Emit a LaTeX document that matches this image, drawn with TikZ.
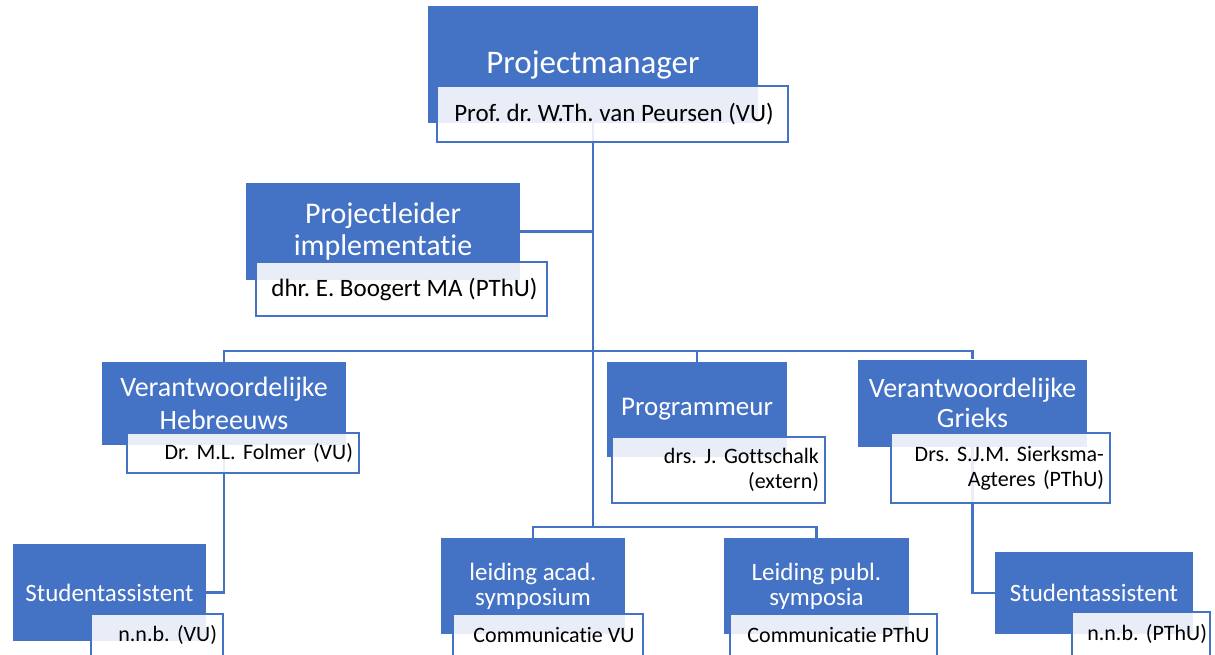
\documentclass[tikz,border=0pt]{standalone}
\usepackage{fontspec}
\setmainfont{Carlito}[Ligatures=NoCommon]
\frenchspacing
\newcommand{\myfs}[2]{\fontsize{#1}{#2}\selectfont\frenchspacing}
\definecolor{myblue}{HTML}{4472C4}
\begin{document}
\begin{tikzpicture}[x=1pt,y=-1pt,
  bluebox/.style={fill=myblue, text=white, inner sep=0pt, align=center},
  whitebox/.style={draw=myblue, line width=1.8pt, fill=white, fill opacity=0.88, text opacity=1, text=black, inner xsep=6pt, inner ysep=0pt},
  conn/.style={draw=myblue, line width=2.4pt}]
\useasboundingbox (0,0) rectangle (1215,654);
\clip (0,0) rectangle (1215,654);
\fill[white] (0,0) rectangle (1215,654);

% blue boxes
\node[bluebox, minimum width=330pt, minimum height=117pt, font=\myfs{33}{38}] (pm) at (593,64.5) {Projectmanager};
\node[bluebox, minimum width=274pt, minimum height=97pt, font=\myfs{30}{32}] (pl) at (383,231.5) {Projectleider\\implementatie};
\node[bluebox, minimum width=244pt, minimum height=83pt, font=\myfs{28}{33}] (heb) at (224,403.5) {Verantwoordelijke\\Hebreeuws};
\node[bluebox, minimum width=180pt, minimum height=95pt, font=\myfs{27}{30}] (prog) at (697,409.5) {Programmeur};
\node[bluebox, minimum width=229pt, minimum height=87pt, font=\myfs{28}{30}] (grk) at (972.5,403) {Verantwoordelijke\\Grieks};
\node[bluebox, minimum width=193pt, minimum height=97pt, font=\myfs{25}{28}] (sa1) at (109.5,592.5) {Studentassistent};
\node[bluebox, minimum width=184pt, minimum height=96pt, font=\myfs{25}{25}] (acad) at (533,586) {leiding acad.\\symposium};
\node[bluebox, minimum width=185pt, minimum height=96pt, font=\myfs{25}{25}] (publ) at (816.5,586) {Leiding publ.\\symposia};
\node[bluebox, minimum width=198pt, minimum height=82pt, font=\myfs{25}{28}] (sa2) at (1094,593) {Studentassistent};

% connectors
\coordinate (barY) at (0,351);
\coordinate (legY) at (0,527);
\draw[conn] (pm.south) -- (pm.south |- legY);
\draw[conn] (pl.east) -- (pl.east -| pm.south);
\draw[conn] (heb.north) -- (heb.north |- barY) -- (grk.north |- barY) -- (grk.north);
\draw[conn] (prog.north) -- (prog.north |- barY);
\draw[conn] (acad.north) -- (acad.north |- legY) -- (publ.north |- legY) -- (publ.north);
\draw[conn] (heb.south) |- (sa1.east);
\draw[conn] (grk.south) |- (sa2.west);

% white boxes
\node[whitebox, minimum width=351pt, minimum height=56pt, font=\myfs{25}{28}] (pmw) at (612.5,114) {\hspace*{3pt}Prof. dr. W.Th. van Peursen (VU)};
\node[whitebox, minimum width=291pt, minimum height=54pt, font=\myfs{25}{28}] (plw) at (401.5,289) {\hspace*{6pt}dhr. E. Boogert MA (PThU)};
\node[whitebox, text width=220pt, minimum height=40pt, align=right, font=\myfs{22}{25}] (hebw) at (243,453) {\mbox{Dr. M.L. Folmer (VU)}};
\node[whitebox, text width=201pt, minimum height=66pt, align=right, font=\myfs{22}{25}] (progw) at (718.5,470) {\mbox{drs. J. Gottschalk}\\\mbox{(extern)}};
\node[whitebox, text width=207pt, minimum height=70pt, align=right, font=\myfs{22}{25}] (grkw) at (1000.5,468) {\mbox{Drs. S.J.M. Sierksma-}\\\mbox{Agteres (PThU)}};
\node[whitebox, text width=120pt, minimum height=42pt, align=right, font=\myfs{22}{25}] (sa1w) at (157,635) {\mbox{n.n.b. (VU)}};
\node[whitebox, minimum width=190pt, minimum height=42pt, font=\myfs{22}{25}] (acadw) at (548,635) {\hspace*{12pt}Communicatie VU};
\node[whitebox, minimum width=207pt, minimum height=42pt, font=\myfs{22}{25}] (publw) at (833.5,635) {\hspace*{10pt}Communicatie PThU};
\node[whitebox, text width=132pt, minimum height=44pt, align=right, inner xsep=3pt, font=\myfs{22}{25}] (sa2w) at (1141,634) {\mbox{n.n.b. (PThU)}};
\end{tikzpicture}
\end{document}
